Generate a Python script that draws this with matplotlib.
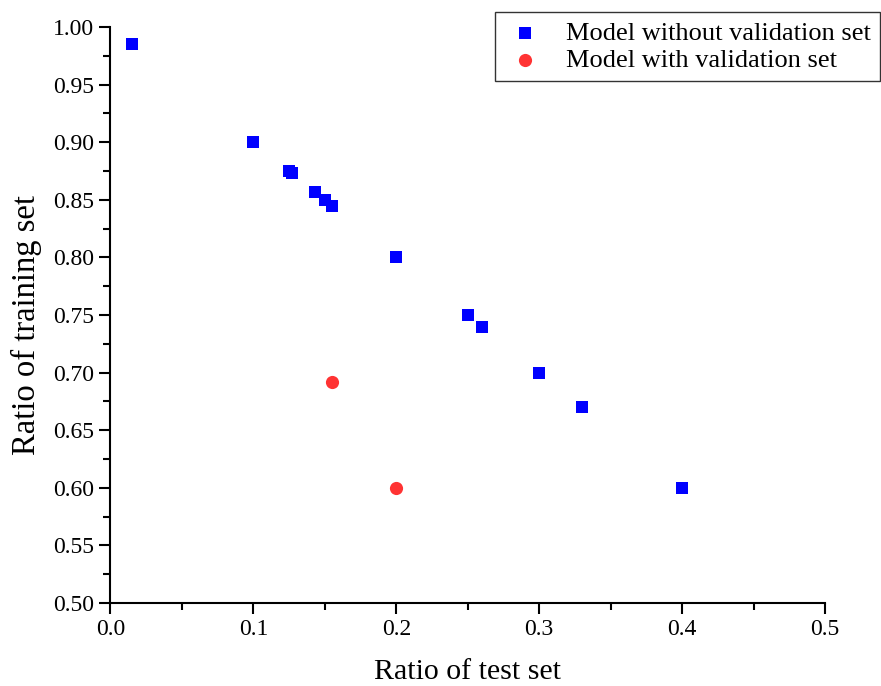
import matplotlib.pyplot as plt
from matplotlib.ticker import MultipleLocator

# data
test_no_val = [0.015, 0.10, 0.125, 0.127, 0.143, 0.150, 0.155, 0.20, 0.25, 0.26, 0.30, 0.33, 0.40]
train_no_val = [0.985, 0.90, 0.875, 0.873, 0.857, 0.850, 0.845, 0.80, 0.75, 0.74, 0.70, 0.67, 0.60]
test_val = [0.155, 0.20]
train_val = [0.692, 0.60]

plt.rcParams["font.family"] = ["Liberation Serif", "DejaVu Serif"]

fig = plt.figure(figsize=(8.81, 6.86), dpi=100)
ax = fig.add_axes([0.1254, 0.121, 0.811, 0.8396])

ax.scatter(test_no_val, train_no_val, marker="s", s=85, color="#0000ff",
           label="Model without validation set", zorder=3, linewidths=0)
ax.scatter(test_val, train_val, marker="o", s=90, color="#ff3333",
           label="Model with validation set", zorder=3, linewidths=0)

ax.set_xlim(0, 0.5)
ax.set_ylim(0.5, 1.0)
ax.xaxis.set_major_locator(MultipleLocator(0.1))
ax.xaxis.set_minor_locator(MultipleLocator(0.05))
ax.yaxis.set_major_locator(MultipleLocator(0.05))
ax.yaxis.set_minor_locator(MultipleLocator(0.025))
ax.xaxis.set_major_formatter(plt.FormatStrFormatter("%.1f"))
ax.yaxis.set_major_formatter(plt.FormatStrFormatter("%.2f"))

for side in ("top", "right"):
    ax.spines[side].set_visible(False)
for side in ("left", "bottom"):
    ax.spines[side].set_linewidth(1.5)
ax.tick_params(which="major", direction="out", length=8, width=1.5, labelsize=17)
ax.tick_params(which="minor", direction="out", length=5, width=1.5)

ax.set_xlabel("Ratio of test set", fontsize=21.5, labelpad=14)
ax.set_ylabel("Ratio of training set", fontsize=23.5, labelpad=8)
ax.yaxis.label.set_y(0.483)

leg = fig.legend(loc="upper right", bbox_to_anchor=(880 / 881, 1 - 12 / 686),
                 fontsize=19, frameon=True, fancybox=False, edgecolor="black",
                 handletextpad=0.75, borderpad=0.35, labelspacing=0.15,
                 handlelength=1.6, borderaxespad=0)
leg.get_frame().set_linewidth(1.0)

fig.savefig("out.png", dpi=100)
